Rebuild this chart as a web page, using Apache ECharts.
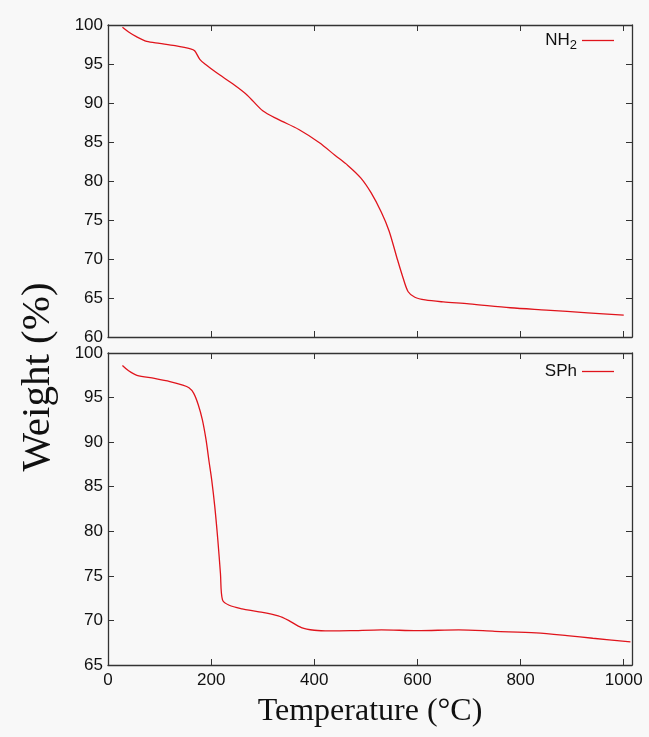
<!DOCTYPE html>
<html style="height: 100%">
<head>
    <meta charset="utf-8">
    <script src="https://cdn.jsdelivr.net/npm/echarts@6/dist/echarts.min.js"></script>
</head>
<body style="height: 100%; margin: 0; background: #f8f8f8">
<div id="tga" style="width: 649px; height: 737px;"></div>
<script type="text/javascript">
    // temperatures (°C) and weights (%)
    var nh2Temp = [28, 40, 55, 75, 100, 130, 160, 168, 178, 190, 210, 245, 270, 300, 330, 370, 410, 440, 465, 490,
        510, 530, 545, 560, 572, 582, 595, 615, 650, 700, 780, 850, 930, 1000];
    var nh2Weight = [99.7, 99.1, 98.5, 97.9, 97.65, 97.35, 96.95, 96.7, 95.6, 94.9, 93.9, 92.3, 91.0, 89.0, 87.9, 86.6, 84.9, 83.3, 82.0, 80.4,
        78.5, 76.0, 73.6, 70.2, 67.6, 65.8, 65.1, 64.75, 64.5, 64.25, 63.75, 63.45, 63.1, 62.8];

    var sphTemp = [28, 40, 56, 90, 120, 145, 157, 166, 175, 183, 190, 196, 201, 207, 213, 218, 222, 235, 260, 290,
        330, 350, 375, 400, 430, 470, 530, 600, 680, 750, 830, 890, 940, 1013];
    var sphWeight = [98.6, 98.0, 97.5, 97.15, 96.8, 96.4, 96.1, 95.5, 94.2, 92.5, 90.3, 87.8, 85.8, 82.8, 79.0, 75.3, 72.3, 71.7, 71.3, 71.0,
        70.5, 70.0, 69.2, 68.9, 68.82, 68.85, 68.95, 68.85, 68.95, 68.78, 68.6, 68.3, 68.0, 67.6];

    var xTicks = [0, 200, 400, 600, 800, 1000];
    var topYTicks = [60, 65, 70, 75, 80, 85, 90, 95, 100];
    var botYTicks = [65, 70, 75, 80, 85, 90, 95, 100];

    function pairs(xs, ys) {
        var res = [];
        for (var i = 0; i < xs.length; i++) {
            res.push([xs[i], ys[i]]);
        }
        return res;
    }

    var lineColor = '#e0141c';
    var axisColor = '#333';
    var labelFont = {color: '#111', fontSize: 17, fontFamily: 'Liberation Sans'};

    function xAxisOf(grid, pos, showLabel, name) {
        return {
            type: 'value', gridIndex: grid, position: pos,
            min: 0, max: 1016, interval: 200,
            axisLine: {show: true, onZero: false, lineStyle: {color: axisColor, width: 1.3}},
            axisTick: {show: true, inside: true, length: 6, lineStyle: {color: axisColor}},
            splitLine: {show: false},
            axisLabel: {
                show: showLabel, margin: 7, color: labelFont.color, fontSize: labelFont.fontSize, fontFamily: labelFont.fontFamily,
                formatter: function (v) { return xTicks.indexOf(v) >= 0 ? String(v) : ''; }
            },
            name: name || '',
            nameLocation: 'middle',
            nameGap: 31,
            nameTextStyle: {fontFamily: 'Liberation Serif', fontSize: 32, color: '#111'}
        };
    }

    function yAxisOf(grid, pos, showLabel, lo, ticks) {
        return {
            type: 'value', gridIndex: grid, position: pos,
            min: lo, max: 100, interval: 5,
            axisLine: {show: true, onZero: false, lineStyle: {color: axisColor, width: 1.3}},
            axisTick: {show: true, inside: true, length: 6, lineStyle: {color: axisColor}},
            splitLine: {show: false},
            axisLabel: {
                show: showLabel, margin: 5, color: labelFont.color, fontSize: labelFont.fontSize, fontFamily: labelFont.fontFamily,
                formatter: function (v) { return ticks.indexOf(v) >= 0 ? String(v) : ''; }
            }
        };
    }

    var chart = echarts.init(document.getElementById('tga'));

    var option = {
        backgroundColor: '#f8f8f8',
        animation: false,
        grid: [
            {left: 108, right: 17, top: 25, height: 312},
            {left: 108, right: 17, top: 353, height: 312}
        ],
        xAxis: [
            xAxisOf(0, 'bottom', false),
            xAxisOf(0, 'top', false),
            xAxisOf(1, 'bottom', true, 'Temperature (°C)'),
            xAxisOf(1, 'top', false)
        ],
        yAxis: [
            yAxisOf(0, 'left', true, 60, topYTicks),
            yAxisOf(0, 'right', false, 60, topYTicks),
            yAxisOf(1, 'left', true, 65, botYTicks),
            yAxisOf(1, 'right', false, 65, botYTicks)
        ],
        legend: [
            {
                data: ['NH2'], right: 30, top: 27, align: 'right',
                icon: 'rect', itemWidth: 32, itemHeight: 1.3, itemGap: 6,
                formatter: function () { return '{n|NH}{s|2}'; },
                textStyle: {
                    color: '#111', fontFamily: 'Liberation Sans',
                    rich: {
                        n: {fontSize: 17, fontFamily: 'Liberation Sans', color: '#111'},
                        s: {fontSize: 13, fontFamily: 'Liberation Sans', color: '#111', padding: [9, 0, 0, 0]}
                    }
                }
            },
            {
                data: ['SPh'], right: 30, top: 358, align: 'right',
                icon: 'rect', itemWidth: 32, itemHeight: 1.3, itemGap: 6,
                textStyle: {color: '#111', fontSize: 17, fontFamily: 'Liberation Sans'}
            }
        ],
        graphic: [{
            type: 'text',
            x: 38, y: 377,
            rotation: Math.PI / 2,
            style: {
                text: 'Weight (%)',
                font: '41px "Liberation Serif"',
                fill: '#111',
                textAlign: 'center',
                textVerticalAlign: 'middle'
            }
        }],
        series: [
            {
                name: 'NH2', type: 'line', xAxisIndex: 0, yAxisIndex: 0,
                showSymbol: false, smooth: 0.3,
                color: lineColor, lineStyle: {width: 1.3},
                data: pairs(nh2Temp, nh2Weight)
            },
            {
                name: 'SPh', type: 'line', xAxisIndex: 2, yAxisIndex: 2,
                showSymbol: false, smooth: 0.3,
                color: lineColor, lineStyle: {width: 1.3},
                data: pairs(sphTemp, sphWeight)
            }
        ]
    };

    chart.setOption(option);
</script>
</body>
</html>
